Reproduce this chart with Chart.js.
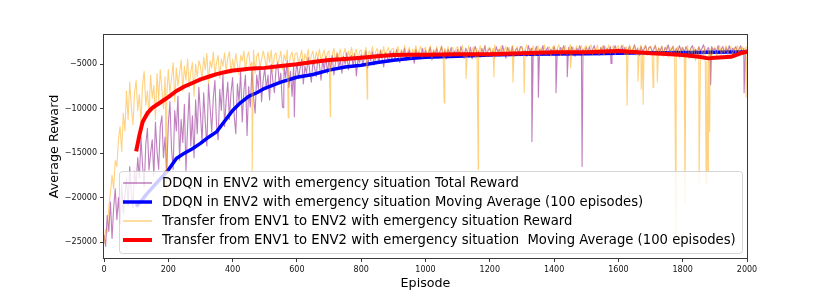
<!DOCTYPE html>
<html>
<head>
<meta charset="utf-8">
<script src="https://cdn.jsdelivr.net/npm/chart.js@4.4.1/dist/chart.umd.min.js"></script>
<style>
  html, body { margin: 0; padding: 0; background: #fff; }
  canvas { display: block; }
</style>
</head>
<body>
<canvas id="chart" width="830" height="297"></canvas>
<script>
// ---- data ----
// raw rewards sampled every 5 episodes, 0..2000 (one row = 100 episodes)
const rawStep = 5;

const ddqnReward = [
  -24200, -25500, -22000, -23800, -20500, -24600, -21200, -19000, -22500, -20000, -23000, -18500, -21800, -19800, -17800, -20900, -16500, -19500, -21200, -17000,
  -18500, -15500, -17800, -13200, -16400, -18800, -14000, -12200, -16900, -15000, -13500, -17600, -11500, -14800, -16800, -12000, -10800, -15500, -13200, -17200,
  -11800, -9200, -14500, -16800, -10200, -12500, -8600, -15800, -11200, -13800, -9500, -17000, -12000, -8200, -14200, -10800, -15500, -9000, -12800, -7600,
  -10500, -13800, -8200, -11500, -14200, -7200, -9800, -12600, -8800, -6800, -11800, -13500, -7800, -10200, -6200, -12000, -9000, -7000, -11200, -8200,
  -6500, -10800, -12800, -7200, -9200, -5800, -11500, -8000, -6200, -13000, -7500, -9800, -5600, -8600, -10500, -6200, -7800, -5200, -9200, -6800,
  -5400, -7800, -6200, -9000, -5000, -6800, -8200, -5600, -4800, -7200, -6000, -9800, -5200, -6500, -4600, -7600, -5800, -8600, -5000, -6400,
  -4800, -6600, -5400, -4400, -7200, -5200, -6000, -4200, -5800, -7000, -4600, -5400, -6400, -4300, -5000, -6800, -4500, -5600, -4100, -6000,
  -4400, -5600, -4000, -6200, -4800, -3800, -5400, -4500, -6000, -4100, -5000, -3700, -5600, -4400, -4000, -5200, -3800, -6300, -4300, -4800,
  -3900, -5000, -4300, -3500, -5400, -4000, -4600, -3600, -5100, -4200, -3800, -4900, -3400, -4400, -5300, -3700, -4100, -4800, -3500, -4500,
  -3600, -4500, -3300, -4200, -4800, -3500, -4000, -3200, -4600, -3800, -3400, -4300, -3700, -4900, -3300, -4000, -3600, -4400, -3200, -4100,
  -3400, -4200, -3700, -3100, -4500, -3500, -3900, -3200, -4300, -3600, -3000, -4100, -3400, -4400, -3300, -3800, -3100, -4200, -3500, -3900,
  -3300, -4100, -3000, -3700, -4300, -3200, -3600, -4000, -3100, -4400, -3400, -3000, -3900, -3500, -4200, -3200, -3700, -2900, -4100, -3400,
  -3200, -3900, -3500, -4200, -3000, -3600, -3300, -4000, -2900, -3700, -4300, -3100, -3500, -3900, -3000, -4100, -3400, -3200, -3800, -3000,
  -3100, -3800, -3400, -4100, -2900, -3600, -3200, -3900, -3500, -3000, -4200, -3300, -3700, -2900, -3900, -3400, -3100, -4000, -3300, -3600,
  -3000, -3700, -3300, -4000, -3100, -3500, -2900, -3900, -3400, -3100, -3800, -3000, -3600, -4100, -3200, -3500, -2900, -3800, -3300, -3700,
  -3100, -3600, -3000, -3900, -3300, -2900, -3700, -3400, -4000, -3100, -3500, -2900, -3800, -3200, -3600, -3000, -3900, -3300, -2900, -3700,
  -3200, -3800, -2900, -3500, -3100, -3900, -3300, -3000, -3700, -3400, -2800, -3600, -3200, -4000, -3000, -3500, -3300, -2900, -3800, -3100,
  -3000, -3600, -3300, -2900, -3800, -3200, -3500, -3000, -3900, -3100, -3400, -2800, -3700, -3300, -3000, -3800, -3200, -3600, -2900, -3500,
  -3100, -3700, -3000, -3400, -3900, -3200, -2900, -3600, -3300, -3800, -3000, -3500, -3200, -2800, -3700, -3400, -3100, -3900, -3000, -3500,
  -3200, -3600, -2900, -3800, -3300, -3000, -3700, -3100, -3500, -2900, -3800, -3200, -3400, -3000, -3600, -3300, -2900, -3700, -3200, -3500,
  -3300
];
// single-episode drops [episode, reward]
const ddqnSpikes = [
  [559, -9900], [592, -10900], [1331, -13700], [1351, -8700], [1406, -8200],
  [1441, -6400], [1487, -16500], [1577, -4900], [1887, -7300], [1991, -8200]
];

const transferReward = [
  -25200, -23500, -24000, -21000, -19500, -17500, -19000, -15800, -16500, -13500, -12000, -14800, -10500, -12500, -8000, -11200, -7000, -9800, -11800, -8200,
  -6800, -10200, -8400, -11500, -7200, -5800, -9600, -8000, -10800, -6200, -8800, -7400, -11200, -6000, -9000, -5600, -7800, -10000, -6400, -8600,
  -5600, -8200, -6600, -4800, -9200, -5400, -7400, -6000, -4500, -8000, -5200, -6800, -4400, -7600, -5800, -4800, -8600, -5000, -6400, -4600,
  -5200, -6800, -4200, -5600, -3800, -7200, -4600, -5400, -3600, -6200, -4800, -4000, -6600, -4400, -5200, -3700, -5800, -4300, -3600, -6000,
  -4400, -5600, -3800, -5000, -6200, -4000, -4600, -3500, -5800, -4200, -3600, -5200, -4800, -3400, -6000, -4100, -3700, -5300, -4500, -3500,
  -4300, -5400, -3600, -4800, -3400, -5800, -4000, -3700, -5000, -4400, -3500, -5600, -3900, -4600, -3400, -5200, -4100, -3600, -4900, -3800,
  -3700, -4900, -4200, -3400, -5200, -3800, -4500, -3300, -4800, -4000, -3500, -5000, -3600, -4300, -3300, -4700, -3900, -3400, -4600, -3700,
  -3500, -4600, -3900, -3200, -4800, -3600, -4200, -3300, -4500, -3800, -3200, -4700, -3500, -4100, -3100, -4400, -3700, -3300, -4600, -3500,
  -3400, -4400, -3700, -3100, -4300, -3500, -4000, -3000, -4500, -3600, -3200, -4200, -3400, -3900, -3000, -4300, -3500, -3100, -4100, -3300,
  -3200, -4200, -3500, -3000, -4400, -3300, -3800, -2900, -4100, -3500, -3100, -4300, -3300, -3700, -2900, -4000, -3400, -3000, -4200, -3300,
  -3100, -4100, -3400, -2900, -4300, -3300, -3700, -3000, -4000, -3500, -2900, -4200, -3200, -3800, -3000, -4100, -3400, -3100, -3900, -3200,
  -3000, -4000, -3300, -2900, -4200, -3200, -3800, -2900, -4100, -3400, -3000, -4300, -3200, -3700, -2900, -4000, -3300, -3000, -4100, -3200,
  -3100, -3900, -3200, -2800, -4100, -3300, -3700, -2900, -4000, -3400, -3000, -4200, -3100, -3800, -2900, -3900, -3300, -3000, -4000, -3200,
  -3000, -3900, -3300, -2800, -4000, -3200, -3600, -2900, -4100, -3300, -2900, -4000, -3100, -3700, -2800, -3900, -3200, -3000, -4100, -3100,
  -2900, -3800, -3200, -2800, -4000, -3100, -3600, -2900, -3900, -3300, -2800, -4000, -3100, -3600, -2900, -3800, -3200, -2900, -4000, -3100,
  -2900, -3800, -3100, -2800, -3900, -3200, -3500, -2800, -3900, -3300, -2900, -4000, -3000, -3600, -2800, -3800, -3200, -2900, -3900, -3100,
  -2900, -3700, -3100, -2800, -3900, -3000, -3600, -2800, -3800, -3200, -2900, -4000, -3100, -3500, -2800, -3800, -3100, -2900, -4000, -3200,
  -3000, -3900, -3200, -2800, -4000, -3100, -3700, -2900, -4100, -3300, -3000, -4200, -3100, -3800, -2900, -4000, -3300, -3000, -4300, -3200,
  -3100, -4200, -3300, -2900, -4400, -3200, -3900, -3000, -4600, -3400, -3100, -4800, -3300, -4000, -3000, -4700, -3500, -3200, -4400, -3300,
  -3100, -4100, -3300, -2900, -4000, -3200, -3700, -2900, -3900, -3300, -3000, -4000, -3100, -3700, -2900, -3800, -3200, -3000, -3900, -3100,
  -3000
];
const transferSpikes = [
  [194, -20000], [461, -17000], [573, -11000], [704, -10900], [819, -8900],
  [1058, -9350], [1126, -6600], [1164, -16800], [1213, -6400], [1272, -7000],
  [1307, -8200], [1451, -5400], [1627, -9600], [1661, -6900], [1671, -7800],
  [1677, -9500], [1708, -7600], [1721, -7000], [1779, -24700], [1807, -20600],
  [1851, -18300], [1873, -18500], [1879, -17000], [1884, -12600], [1997, -8700]
];

// 100-episode moving averages
const maEpisodes = [
  100, 110, 120, 135, 150, 175, 200, 225, 250, 275, 300, 325, 350, 375, 400,
  425, 450, 475, 500, 550, 600, 650, 700, 750, 800, 850, 900, 950, 1000, 1100,
  1200, 1300, 1400, 1500, 1600, 1650, 1700, 1750, 1800, 1850, 1880, 1900, 1950, 1980, 2000
];
const ddqnMA = [
  -21000, -20600, -20200, -19500, -18900, -17900, -16900, -15600, -15000, -14500,
  -13900, -13200, -12600, -11400, -10200, -9300, -8600, -8200, -7700, -7000,
  -6450, -6150, -5650, -5300, -5100, -4800, -4550, -4350, -4200, -4100,
  -3950, -3880, -3850, -3820, -3750, -3720, -3700, -3690, -3680, -3660,
  -3650, -3650, -3620, -3600, -3600
];
const transferMA = [
  -14800, -13000, -11500, -10500, -9900, -9300, -8700, -8000, -7500, -7100,
  -6700, -6400, -6100, -5900, -5700, -5600, -5500, -5450, -5400, -5200,
  -5000, -4750, -4520, -4400, -4260, -4100, -3950, -3930, -3920, -3880,
  -3880, -3760, -3650, -3650, -3500, -3600, -3760, -3840, -3950, -4150,
  -4330, -4260, -4150, -3760, -3580
];

const yTicks = [-25000, -20000, -15000, -10000, -5000];
const seriesLabels = [
  'DDQN in ENV2 with emergency situation Total Reward',
  'DDQN in ENV2 with emergency situation Moving Average (100 episodes)',
  'Transfer from ENV1 to ENV2 with emergency situation Reward',
  'Transfer from ENV1 to ENV2 with emergency situation  Moving Average (100 episodes)'
];

// ---- helpers ----
function rawPoints(values, spikes) {
  const pts = values.map((v, i) => ({ x: i * rawStep, y: v }));
  spikes.forEach(([x, y]) => pts.push({ x, y }));
  return pts.sort((a, b) => a.x - b.x);
}
const maPoints = (values) => values.map((v, i) => ({ x: maEpisodes[i], y: v }));
const minus = (v) => String(v).replace('-', '\u2212');

// frame + matplotlib style legend box inside the axes
const frameLegend = {
  id: 'frameLegend',
  afterDatasetsDraw(chart) {
    const { ctx, chartArea: a } = chart;
    ctx.save();
    ctx.strokeStyle = '#3a3a3a';
    ctx.lineWidth = 1;
    ctx.strokeRect(a.left - 0.5, a.top - 0.5, a.right - a.left + 1, a.bottom - a.top + 1);

    // legend
    const bx = 119.5, by = 171.5, bw = 623, bh = 82, r = 3;
    ctx.beginPath();
    ctx.moveTo(bx + r, by);
    ctx.arcTo(bx + bw, by, bx + bw, by + bh, r);
    ctx.arcTo(bx + bw, by + bh, bx, by + bh, r);
    ctx.arcTo(bx, by + bh, bx, by, r);
    ctx.arcTo(bx, by, bx + bw, by, r);
    ctx.closePath();
    ctx.fillStyle = 'rgba(255,255,255,0.8)';
    ctx.fill();
    ctx.strokeStyle = 'rgba(204,204,204,0.8)';
    ctx.stroke();

    const rows = [183, 202, 221, 240];
    ctx.font = '13.2px "DejaVu Sans"';
    ctx.textBaseline = 'middle';
    chart.data.datasets
      .slice()
      .sort((p, q) => p.legendIndex - q.legendIndex)
      .forEach((ds, i) => {
        ctx.beginPath();
        ctx.strokeStyle = ds.borderColor;
        ctx.lineWidth = ds.borderWidth < 2 ? 1.5 : ds.borderWidth;
        ctx.moveTo(123, rows[i]);
        ctx.lineTo(152, rows[i]);
        ctx.stroke();
        ctx.fillStyle = '#000';
        ctx.fillText(ds.label, 162, rows[i] + 0.5);
      });
    ctx.restore();
  }
};

Chart.defaults.font.family = '"DejaVu Sans", sans-serif';

new Chart(document.getElementById('chart'), {
  type: 'line',
  data: {
    datasets: [
      {
        label: seriesLabels[0], legendIndex: 0, order: 4,
        data: rawPoints(ddqnReward, ddqnSpikes),
        borderColor: 'rgba(128,0,128,0.5)', borderWidth: 1.1
      },
      {
        label: seriesLabels[1], legendIndex: 1, order: 3,
        data: maPoints(ddqnMA),
        borderColor: '#0000ff', borderWidth: 3.5
      },
      {
        label: seriesLabels[2], legendIndex: 2, order: 2,
        data: rawPoints(transferReward, transferSpikes),
        borderColor: 'rgba(255,165,0,0.5)', borderWidth: 1.1
      },
      {
        label: seriesLabels[3], legendIndex: 3, order: 1,
        data: maPoints(transferMA),
        borderColor: '#ff0000', borderWidth: 4
      }
    ]
  },
  options: {
    responsive: false,
    animation: false,
    devicePixelRatio: 1,
    layout: { padding: { top: 35, right: 83, left: 0, bottom: 0 } },
    elements: {
      point: { radius: 0 },
      line: { tension: 0, fill: false, borderJoinStyle: 'round', borderCapStyle: 'butt' }
    },
    plugins: { legend: { display: false }, tooltip: { enabled: false } },
    scales: {
      x: {
        type: 'linear',
        min: 0, max: 2000,
        afterFit: (s) => { s.height = 39; },
        ticks: { stepSize: 200, color: '#111', font: { size: 8 }, padding: 3, maxRotation: 0, callback: (v) => String(v) },
        grid: { display: true, drawOnChartArea: false, drawTicks: true, tickLength: 4, color: '#3a3a3a' },
        border: { display: false },
        title: { display: true, text: 'Episode', color: '#000', font: { size: 12.7 }, padding: { top: 0, bottom: 6 } }
      },
      y: {
        min: -26800, max: -1700,
        afterFit: (s) => { s.width = 104; },
        afterBuildTicks: (s) => { s.ticks = yTicks.map((v) => ({ value: v })); },
        ticks: { color: '#111', font: { size: 8 }, padding: 3, callback: (v) => minus(v) },
        grid: { display: true, drawOnChartArea: false, drawTicks: true, tickLength: 4, color: '#3a3a3a' },
        border: { display: false },
        title: { display: true, text: 'Average Reward', color: '#000', font: { size: 12.7 }, padding: { top: 47, bottom: 0 } }
      }
    }
  },
  plugins: [frameLegend]
});
</script>
</body>
</html>
